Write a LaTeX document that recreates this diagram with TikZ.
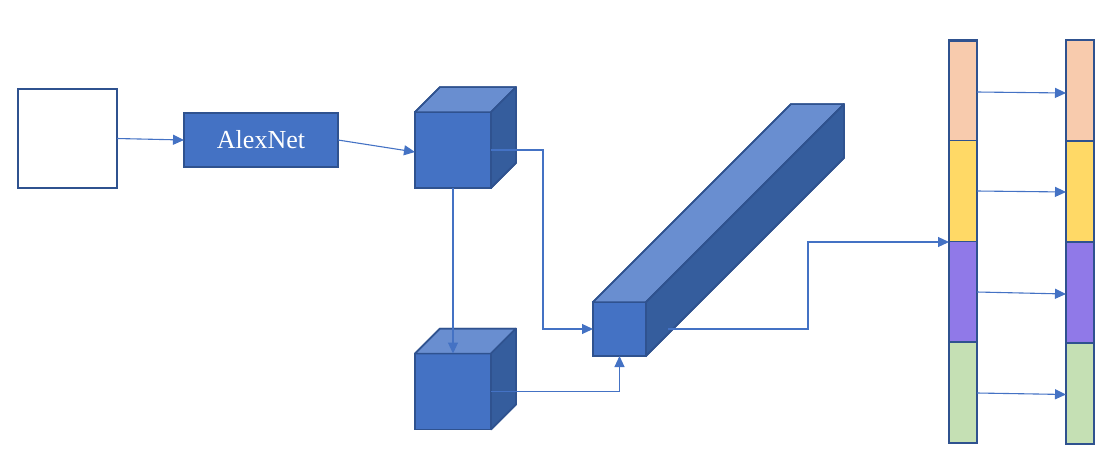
\documentclass[tikz,border=0pt]{standalone}
\usepackage{fontspec}
\setmainfont{Liberation Serif}
\usetikzlibrary{arrows.meta,calc}
\definecolor{bord}{HTML}{2F528F}
\definecolor{frontc}{HTML}{4472C4}
\definecolor{topc}{HTML}{698ED0}
\definecolor{sidec}{HTML}{355D9D}
\definecolor{peach}{HTML}{F8CBAD}
\definecolor{yell}{HTML}{FFD966}
\definecolor{purp}{HTML}{9079E8}
\definecolor{gree}{HTML}{C5E0B4}
\tikzset{
  box/.style={draw=bord, line width=1.8pt, outer sep=0pt, inner sep=0pt},
  face/.style={box, fill=frontc},
  topface/.style={draw=bord, line width=1.5pt, fill=topc, line join=round},
  sideface/.style={draw=bord, line width=1.5pt, fill=sidec, line join=round},
  conn/.style={draw=frontc, line width=1.1pt, -{Triangle[length=11pt,width=10pt]}},
  seg/.style={box, minimum width=28, minimum height=101},
}
\begin{document}
\begin{tikzpicture}[x=1pt,y=-1pt]
\useasboundingbox (0,0) rectangle (1111,464);
% input and AlexNet
\node[box, fill=white, minimum width=99, minimum height=99] (in) at (67.5,138.5) {};
\node[face, minimum width=154, minimum height=54, text=white,
      font=\fontsize{26}{30}\selectfont] (alex) at (261,140) {AlexNet};
% cube 1
\node[face, minimum width=76, minimum height=76] (c1) at (453,150) {};
\fill[topface] (c1.north west) -- ++(25,-25) -- ($(c1.north east)+(25,-25)$) -- (c1.north east) -- cycle;
\fill[sideface] (c1.north east) -- ++(25,-25) -- ($(c1.south east)+(25,-25)$) -- (c1.south east) -- cycle;
\draw[topface,fill=none] (c1.north west) -- ++(25,-25) -- ($(c1.north east)+(25,-25)$) -- ($(c1.south east)+(25,-25)$) -- (c1.south east);
% cube 2
\node[face, minimum width=76, minimum height=76] (c2) at (453,391.5) {};
\fill[topface] (c2.north west) -- ++(25,-25) -- ($(c2.north east)+(25,-25)$) -- (c2.north east) -- cycle;
\fill[sideface] (c2.north east) -- ++(25,-25) -- ($(c2.south east)+(25,-25)$) -- (c2.south east) -- cycle;
\draw[topface,fill=none] (c2.north west) -- ++(25,-25) -- ($(c2.north east)+(25,-25)$) -- ($(c2.south east)+(25,-25)$) -- (c2.south east);
% long prism
\node[face, minimum width=53, minimum height=54] (p) at (619.5,329) {};
\fill[topface] (p.north west) -- ++(198,-198) -- ($(p.north east)+(198,-198)$) -- (p.north east) -- cycle;
\fill[sideface] (p.north east) -- ++(198,-198) -- ($(p.south east)+(198,-198)$) -- (p.south east) -- cycle;
\draw[topface,fill=none] (p.north west) -- ++(198,-198) -- ($(p.north east)+(198,-198)$) -- ($(p.south east)+(198,-198)$) -- (p.south east);
\draw[topface,fill=none] (p.north east) -- ++(198,-198);
% bars
\node[seg, fill=peach] (a1) at (963,90.5) {};
\node[seg, fill=yell] (a2) at (963,191) {};
\node[seg, fill=purp] (a3) at (963,292) {};
\node[seg, fill=gree] (a4) at (963,392.5) {};
\node[box, minimum width=28, minimum height=402] (bar1) at (963,242) {};
\node[seg, fill=peach] (b1) at (1080,90.5) {};
\node[seg, fill=yell] (b2) at (1080,191.5) {};
\node[seg, fill=purp] (b3) at (1080,292.5) {};
\node[seg, fill=gree] (b4) at (1080,393.5) {};
\node[box, minimum width=28, minimum height=404] (bar2) at (1080,242) {};
% connectors
\draw[conn] (in.east) -- (alex.west);
\draw[conn] (alex.east) -- ($(c1.west)+(0,2)$);
\draw[conn] (c1.east) -- (543,150) |- (p.west);
\draw[conn] (c1.south) -- (c2.north);
\draw[conn] (c2.east) -| (p.south);
\draw[conn] ($(p.east)+(22,0)$) -- (808,329) |- (bar1.west);
\draw[conn] ($(a1.east)+(0,1.5)$) -- ($(b1.west)+(0,2.5)$);
\draw[conn] ($(a2.east)+(0,0)$) -- ($(b2.west)+(0,0.5)$);
\draw[conn] ($(a3.east)+(0,0)$) -- ($(b3.west)+(0,1.5)$);
\draw[conn] ($(a4.east)+(0,0.5)$) -- ($(b4.west)+(0,1)$);
\end{tikzpicture}
\end{document}
